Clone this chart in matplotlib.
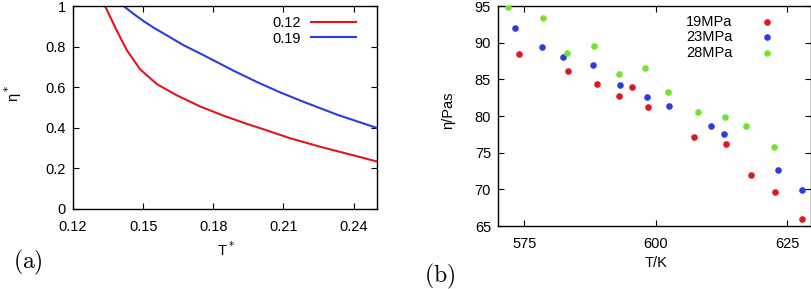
import numpy as np
import matplotlib.pyplot as plt

# panel (a): reduced viscosity vs reduced temperature
t_red = [0.1337, 0.1387, 0.1430, 0.1487, 0.1559, 0.1644, 0.1744, 0.1843,
         0.1929, 0.2014, 0.2130, 0.2259, 0.2387, 0.2503]
eta_red = [1.0, 0.879, 0.783, 0.688, 0.615, 0.560, 0.505, 0.460,
           0.425, 0.393, 0.348, 0.306, 0.268, 0.233]
t_blue = [0.1416, 0.1457, 0.1501, 0.1551, 0.1602, 0.1671, 0.1744, 0.1815,
          0.1887, 0.1984, 0.2087, 0.2186, 0.2331, 0.2503]
eta_blue = [1.0, 0.963, 0.926, 0.889, 0.855, 0.808, 0.766, 0.724,
            0.681, 0.627, 0.574, 0.528, 0.464, 0.398]
labels_a = ['0.12', '0.19']

# panel (b): viscosity vs temperature at three pressures
T19 = [573.9, 583.4, 588.9, 593.0, 595.4, 598.5, 607.3, 613.3, 618.0, 622.7, 627.7]
eta19 = [88.5, 86.2, 84.3, 82.7, 83.9, 81.2, 77.1, 76.2, 72.0, 69.6, 66.0]
T23 = [573.2, 578.3, 582.4, 588.0, 593.1, 598.3, 602.5, 610.5, 612.9, 623.2, 627.7]
eta23 = [92.0, 89.4, 88.0, 87.0, 84.2, 82.6, 81.4, 78.6, 77.5, 72.7, 69.9]
T28 = [571.9, 578.5, 583.1, 588.2, 593.0, 598.0, 602.3, 608.1, 613.2, 617.1, 622.4]
eta28 = [94.8, 93.4, 88.6, 89.6, 85.7, 86.6, 83.3, 80.5, 79.8, 78.6, 75.8]
labels_b = ['19MPa', '23MPa', '28MPa']

plt.rcParams['font.family'] = ['Liberation Sans', 'DejaVu Sans']
plt.rcParams['font.size'] = 10.5

W, H = 812, 289
fig = plt.figure(figsize=(W / 100, H / 100), dpi=100)

def box(l, t, r, b):
    return [l / W, 1 - b / H, (r - l) / W, (b - t) / H]

red = '#e4151d'
blue = '#2a3ee0'
green = '#74e22e'

ax1 = fig.add_axes(box(73, 6, 377, 209))
ax1.plot(t_red, eta_red, color=red, lw=1.5, label=labels_a[0])
ax1.plot(t_blue, eta_blue, color=blue, lw=1.5, label=labels_a[1])
ax1.set_xlim(0.12, 0.25)
ax1.set_ylim(0, 1)
ax1.set_xticks([0.12, 0.15, 0.18, 0.21, 0.24])
ax1.set_xticklabels(['0.12', '0.15', '0.18', '0.21', '0.24'])
ax1.set_yticks([0, 0.2, 0.4, 0.6, 0.8, 1])
ax1.set_yticklabels(['0', '0.2', '0.4', '0.6', '0.8', '1'])
ax1.legend(loc='upper right', bbox_to_anchor=(0.975, 1.015), frameon=False,
           markerfirst=False, handlelength=3.1, handletextpad=0.7,
           labelspacing=0.1)

ax2 = fig.add_axes(box(498, 6, 811, 226))
ax2.scatter(T19, eta19, s=14, color=red, label=labels_b[0], zorder=3)
ax2.scatter(T23, eta23, s=14, color=blue, label=labels_b[1], zorder=3)
ax2.scatter(T28, eta28, s=14, color=green, label=labels_b[2], zorder=3)
ax2.set_xlim(570, 629.5)
ax2.set_ylim(65, 95)
ax2.set_xticks([575, 600, 625])
ax2.set_yticks([65, 70, 75, 80, 85, 90, 95])
ax2.legend(loc='upper right', bbox_to_anchor=(0.948, 1.02), frameon=False,
           markerfirst=False, handlelength=2.0, handletextpad=1.35,
           labelspacing=0.1, scatterpoints=1)

for ax in (ax1, ax2):
    ax.tick_params(direction='in', top=True, right=True, length=4, width=0.8)
    ax.tick_params(axis='x', pad=8)
    ax.tick_params(axis='y', pad=5)
    for s in ax.spines.values():
        s.set_linewidth(1.0)

fig.text(13 / W, 1 - 93 / H, r'η$^*$', rotation=90, ha='center', va='center')
fig.text(226 / W, 1 - 250 / H, r'T$^*$', ha='center', va='center')
fig.text(28 / W, 1 - 262 / H, r'$\mathrm{(a)}$', math_fontfamily='cm',
         fontsize=17, ha='center', va='center')
fig.text(448 / W, 1 - 110 / H, 'η/Pas', rotation=90, ha='center', va='center')
fig.text(440 / W, 1 - 276 / H, r'$\mathrm{(b)}$', math_fontfamily='cm',
         fontsize=17, ha='center', va='center')
fig.text(656 / W, 1 - 263 / H, 'T/K', ha='center', va='center')

fig.savefig('out.png', dpi=100)
